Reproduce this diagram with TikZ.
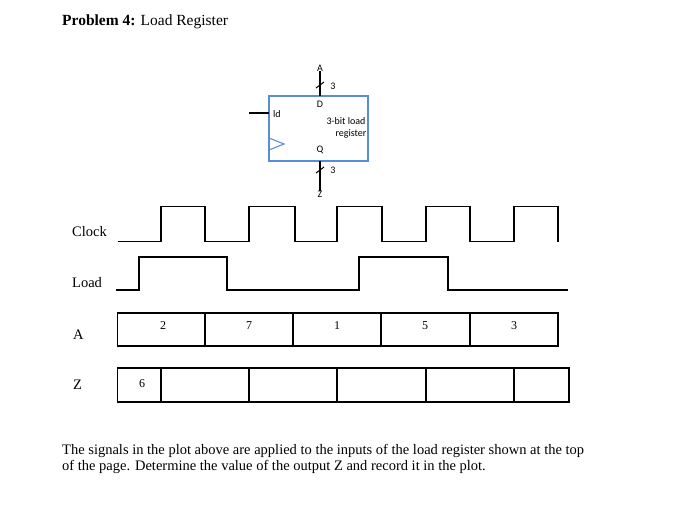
\documentclass[tikz,border=0pt]{standalone}
\usepackage{fontspec}
\setmainfont{Liberation Serif}
\newfontfamily\regf{Carlito}
\begin{document}
\begin{tikzpicture}[x=1pt,y=-1pt,
  sig/.style={line width=1.3pt,black},
  reg/.style={font=\regf\fontsize{10}{11}\selectfont,inner sep=0pt},
  lbl/.style={font=\fontsize{14.5}{16}\selectfont,anchor=west,inner sep=0pt},
  val/.style={font=\fontsize{12}{13}\selectfont,inner sep=0pt}]
\useasboundingbox (0,0) rectangle (700,509);
\node[anchor=west,inner sep=0pt,font=\fontsize{15.5}{18}\selectfont] (title) at (62,22) {\textbf{Problem 4:} Load Register};
% register
\draw[color={rgb,255:red,90;green,140;blue,215},line width=1.1pt] (269,96) rectangle (368,161);
\draw[color={rgb,255:red,90;green,140;blue,215},line width=1.1pt] (269,138) -- (284,144) -- (269,150);
\node[reg] (A) at (320,68) {A};
\node[reg] (Zr) at (320,194) {Z};
\coordinate (din) at (320,96);
\coordinate (qout) at (320,161);
\coordinate (ldl) at (249,113);
\coordinate (ldr) at (269,113);
\draw[line width=1.1pt] (A.south) -- (din);
\draw[line width=1.1pt] (qout) -- (Zr.north);
\draw[line width=1pt] (316,88) -- (324,82);
\draw[line width=1pt] (316,173) -- (324,167);
\node[reg] at (333,86) {3};
\node[reg] at (333,170) {3};
\draw[line width=1.1pt] (ldl) -- (ldr);
\node[reg,anchor=west] at (273,114) {ld};
\node[reg] at (320,104) {D};
\node[reg] at (320,150) {Q};
\node[reg] at (346,121) {3-bit load};
\node[reg] at (351,134) {register};
% labels
\node[lbl] (lc) at (72,232) {Clock};
\node[lbl] (ll) at (72,283) {Load};
\node[lbl] (la) at (73,335) {A};
\node[lbl] (lz) at (73,385) {Z};
% clock
\draw[sig] (117.7,241.5) -- (161,241.5) -- (161,206.7) -- (205,206.7) -- (205,241.5) -- (249,241.5) -- (249,206.7) -- (295,206.7) -- (295,241.5) -- (337,241.5) -- (337,206.7) -- (382,206.7) -- (382,241.5) -- (426,241.5) -- (426,206.7) -- (470,206.7) -- (470,241.5) -- (514,241.5) -- (514,206.7) -- (558,206.7) -- (558,241.5);
% load
\draw[sig] (116,290) -- (139,290) -- (139,257) -- (227,257) -- (227,290) -- (359,290) -- (359,257) -- (448,257) -- (448,290) -- (568,290);
% A
\draw[sig] (117.7,313) rectangle (558,346);
\foreach \x in {205,293,381,470} \draw[sig] (\x,313) -- (\x,346);
\foreach \x/\v in {163/2,249/7,337/1,425/5,514/3} \node[val] at (\x,326) {\v};
% Z
\draw[sig] (117.7,368) rectangle (569,402);
\foreach \x in {161,249,337,426,514} \draw[sig] (\x,368) -- (\x,402);
\node[val] at (142,384) {6};
\node[anchor=north west,inner sep=0pt,align=left,font=\fontsize{14.5}{16}\selectfont] (txt) at (62,444) {The signals in the plot above are applied to the inputs of the load register shown at the top\\of the page. Determine the value of the output Z and record it in the plot.};
\end{tikzpicture}
\end{document}
